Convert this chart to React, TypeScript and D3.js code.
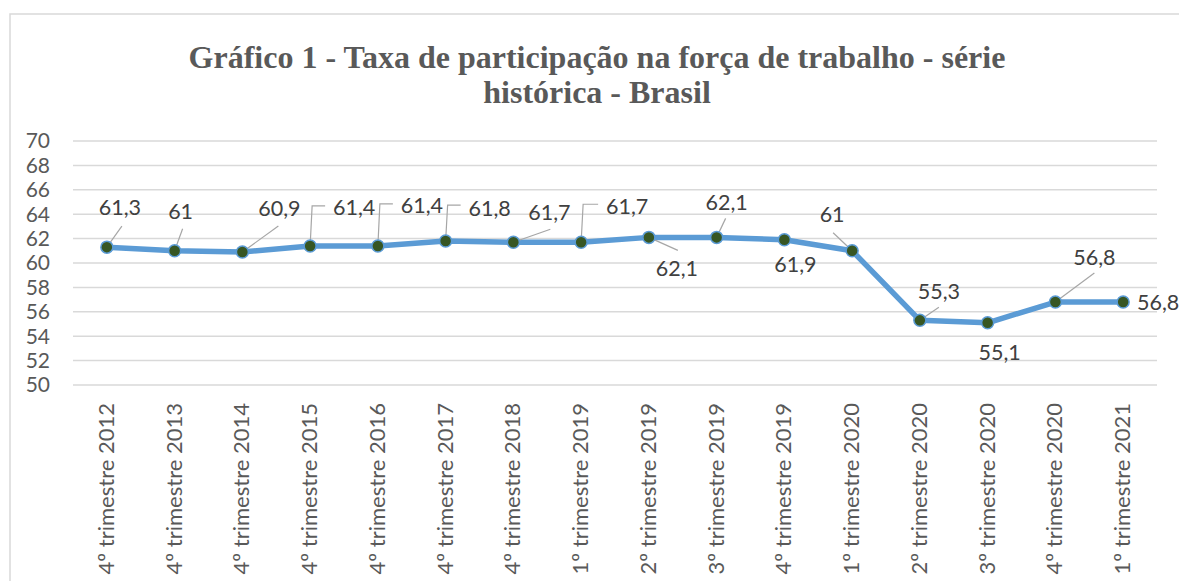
import React, { useEffect, useRef } from 'react';
import * as d3 from 'd3';

const categories = [
  '4º trimestre 2012', '4º trimestre 2013', '4º trimestre 2014', '4º trimestre 2015',
  '4º trimestre 2016', '4º trimestre 2017', '4º trimestre 2018', '1º trimestre 2019',
  '2º trimestre 2019', '3º trimestre 2019', '4º trimestre 2019', '1º trimestre 2020',
  '2º trimestre 2020', '3º trimestre 2020', '4º trimestre 2020', '1º trimestre 2021',
];
const values = [61.3, 61, 60.9, 61.4, 61.4, 61.8, 61.7, 61.7, 62.1, 62.1, 61.9, 61, 55.3, 55.1, 56.8, 56.8];
const yTicks = [50, 52, 54, 56, 58, 60, 62, 64, 66, 68, 70];

// label placement (text centre offset from the point, in px)
const labelOffsets = [
  [13, -40], [6, -39], [37, -44], [44, -38], [44, -40], [44, -33], [36, -30], [46, -36],
  [28, 31], [10, -35], [11, 25], [-20, -36], [19, -29], [12, 30], [39, -45], [35, 0],
];
// leader lines: null, ['line', x, y] or ['elbow', x, y, cornerX]
const leaders: any[] = [
  ['line', 15, -21], ['line', 8, -22], ['line', 36, -26], ['elbow', 15, -40, 2],
  ['elbow', 15, -42, 2], ['elbow', 15, -36, 2], ['line', 37, -13], ['elbow', 17, -38, 2],
  ['line', 29, 13], ['line', 9, -19], null, ['line', -19, -18],
  ['line', 19, -13], null, ['line', 39, -29], null,
];

const W = 1179;
const H = 581;

const App = () => {
  const ref = useRef<SVGSVGElement>(null);

  useEffect(() => {
    const svg = d3.select(ref.current);
    svg.selectAll('*').remove();

    const x = d3.scaleBand().domain(categories).range([73, 1157]);
    const y = d3.scaleLinear().domain([50, 70]).range([385, 141]);
    const cx = (c: string) => (x(c) as number) + x.bandwidth() / 2;

    svg.append('rect')
      .attr('x', 10).attr('y', 14).attr('width', W + 20).attr('height', H + 20)
      .attr('fill', 'white').attr('stroke', '#d9d9d9').attr('stroke-width', 1.5);

    svg.append('text')
      .attr('x', 597).attr('y', 0)
      .attr('text-anchor', 'middle')
      .style('font-family', '"Liberation Serif", "Times New Roman", serif')
      .style('font-weight', 'bold')
      .style('font-size', '32px')
      .attr('fill', '#595959')
      .selectAll('tspan')
      .data(['Gráfico 1 - Taxa de participação na força de trabalho - série', 'histórica - Brasil'])
      .enter().append('tspan')
      .attr('x', 597)
      .attr('y', (d, i) => 68 + i * 35)
      .text(d => d);

    const grid = svg.append('g');
    grid.selectAll('line')
      .data(yTicks)
      .enter().append('line')
      .attr('x1', 73).attr('x2', 1157)
      .attr('y1', d => y(d)).attr('y2', d => y(d))
      .attr('stroke', '#d9d9d9').attr('stroke-width', 1.5);

    svg.append('g').selectAll('text')
      .data(yTicks)
      .enter().append('text')
      .attr('x', 50).attr('y', d => y(d))
      .attr('dy', '0.35em')
      .attr('text-anchor', 'end')
      .style('font-family', 'Lato, sans-serif')
      .style('font-size', '21px')
      .attr('fill', '#595959')
      .text(d => d);

    svg.append('g').selectAll('text')
      .data(categories)
      .enter().append('text')
      .attr('transform', d => `translate(${cx(d) + 7},403) rotate(-90)`)
      .attr('text-anchor', 'end')
      .style('font-family', 'Lato, sans-serif')
      .style('font-size', '22px')
      .attr('fill', '#595959')
      .text(d => d);

    const pts = categories.map((c, i) => ({ c, v: values[i], i }));

    svg.append('path')
      .datum(pts)
      .attr('fill', 'none')
      .attr('stroke', '#5b9bd5')
      .attr('stroke-width', 5.5)
      .attr('stroke-linejoin', 'round')
      .attr('d', d3.line<any>().x(d => cx(d.c)).y(d => y(d.v)));

    const lead = svg.append('g');
    pts.forEach(p => {
      const L = leaders[p.i];
      if (!L) return;
      const px = cx(p.c);
      const py = y(p.v);
      const path = d3.path();
      path.moveTo(px + L[1], py + L[2]);
      if (L[0] === 'elbow') path.lineTo(px + L[3], py + L[2]);
      path.lineTo(px, py);
      lead.append('path')
        .attr('d', path.toString())
        .attr('fill', 'none')
        .attr('stroke', '#a6a6a6')
        .attr('stroke-width', 1.2);
    });

    svg.append('g').selectAll('circle')
      .data(pts)
      .enter().append('circle')
      .attr('cx', d => cx(d.c))
      .attr('cy', d => y(d.v))
      .attr('r', 6)
      .attr('fill', '#375623')
      .attr('stroke', '#5b9bd5')
      .attr('stroke-width', 1.5);

    svg.append('g').selectAll('text')
      .data(pts)
      .enter().append('text')
      .attr('x', d => cx(d.c) + labelOffsets[d.i][0])
      .attr('y', d => y(d.v) + labelOffsets[d.i][1])
      .attr('dy', '0.35em')
      .attr('text-anchor', 'middle')
      .style('font-family', 'Lato, sans-serif')
      .style('font-size', '21.5px')
      .attr('fill', '#404040')
      .text(d => String(d.v).replace('.', ','));
  }, []);

  return (
    <svg
      ref={ref}
      width={W}
      height={H}
      style={{ position: 'absolute', left: 0, top: 0, background: 'white' }}
    />
  );
};

export default App;
